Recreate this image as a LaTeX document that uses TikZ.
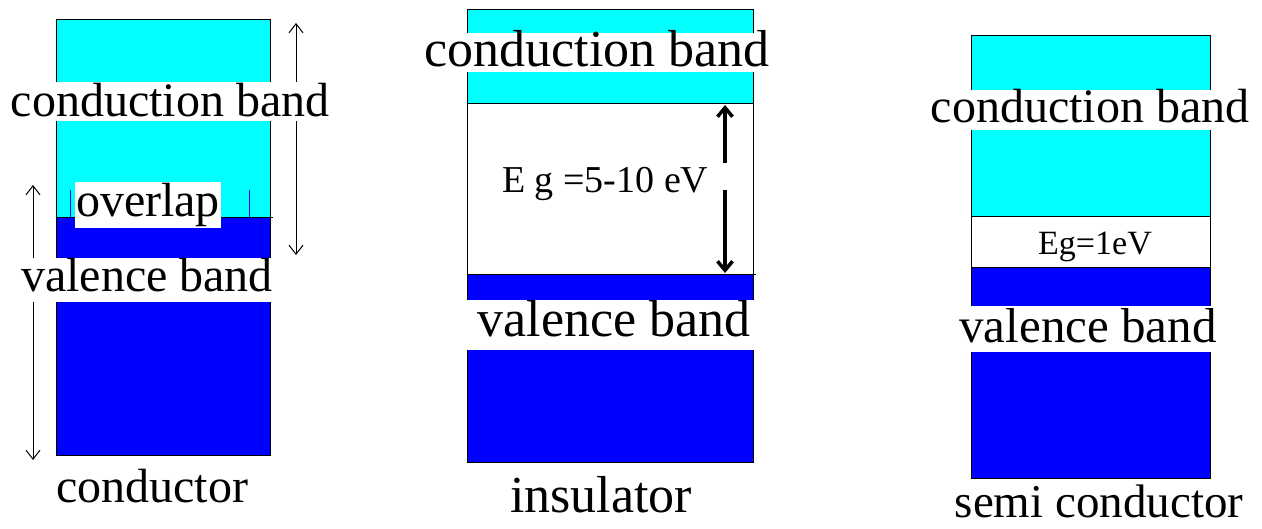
\documentclass[tikz,border=0pt]{standalone}
\usepackage{fontspec}
\setmainfont{Liberation Serif}
\usetikzlibrary{positioning, arrows.meta}

\definecolor{bandcyan}{RGB}{0,255,255}
\definecolor{bandblue}{RGB}{0,0,255}

% large labels: half size, scaled up twice
\newcommand{\bandtext}[2]{\scalebox{2}{\fontsize{#1}{#1}\selectfont #2}}

\begin{document}
\begin{tikzpicture}[x=1pt, y=-1pt,
    bandlabel/.style={fill=white, inner xsep=1pt, inner ysep=0pt, anchor=base},
    capt/.style={inner sep=0pt, anchor=base},
    thinarrow/.style={line width=1pt, {Straight Barb[length=9pt,width=14pt]}-{Straight Barb[length=9pt,width=14pt]}},
    gaparrow/.style={line width=3.5pt, -{Straight Barb[length=9pt,width=15pt]}},
    boxline/.style={draw=black, line width=1pt}]

            \useasboundingbox (0,0) rectangle (1262,529);

            % conductor
            \fill[bandcyan] (56,20) rectangle (270,218);
            \fill[bandblue] (56,218) rectangle (270,455);
            \draw[boxline] (56,20) rectangle (270,455);
            \draw[boxline] (56,218) -- (273,218);
            \draw[bandblue, line width=1pt] (70,190) -- (70,233);
            \draw[bandblue, line width=1pt] (249,190) -- (249,238);

            \coordinate (cbTop) at (296,23);
            \coordinate (cbBot) at (296,255);
            \coordinate (vbTop) at (33,185);
            \coordinate (vbBot) at (33,460);
            \draw[thinarrow] (cbTop) -- (cbBot);
            \draw[thinarrow] (vbTop) -- (vbBot);

            \node[bandlabel, text height=35pt, text depth=4pt] (CB1) at (170,117) {\bandtext{24}{conduction band}};
            \node[bandlabel, text height=35pt, text depth=11pt] (OL) at (148,217) {\bandtext{24}{overlap}};
            \node[bandlabel, text height=34pt, text depth=10pt] (VB1) at (147,292) {\bandtext{24}{valence band}};
            \node[capt] (C1) at (152,502) {\bandtext{24}{conductor}};

            % insulator
            \fill[bandcyan] (467,10) rectangle (753,104);
            \fill[bandblue] (467,275) rectangle (753,462);
            \draw[boxline] (467,10) rectangle (753,462);
            \draw[boxline] (467,104) -- (753,104);
            \draw[boxline] (467,275) -- (756,275);
            \fill[white] (466,300) rectangle (754,350);

            \node[bandlabel, text height=34pt, text depth=5pt] (CB2) at (597,67) {\bandtext{26}{conduction band}};
            \node[bandlabel, text height=37pt, text depth=13pt] (VB2) at (614,337) {\bandtext{26}{valence band}};
            \node[capt] (C2) at (601,512) {\bandtext{26}{insulator}};
            \node[capt, anchor=base west, font=\fontsize{38}{40}\selectfont] (EG2) at (502,193) {E g =5-10 eV};

            \coordinate (gapTop) at (725,105);
            \coordinate (gapUp) at (725,163);
            \coordinate (gapDown) at (725,190);
            \coordinate (gapBot) at (725,273);
            \draw[gaparrow] (gapUp) -- (gapTop);
            \draw[gaparrow] (gapDown) -- (gapBot);

            % semi conductor
            \fill[bandcyan] (971,36) rectangle (1210,217);
            \fill[bandblue] (971,268) rectangle (1210,478);
            \draw[boxline] (971,36) rectangle (1210,478);
            \draw[boxline] (971,217) -- (1210,217);
            \draw[boxline] (971,268) -- (1210,268);

            \node[bandlabel, text height=33pt, text depth=7pt] (CB3) at (1090,123) {\bandtext{24}{conduction band}};
            \node[bandlabel, text height=37pt, text depth=9pt] (VB3) at (1088,343) {\bandtext{24.5}{valence band}};
            \node[capt] (C3) at (1099,517) {\bandtext{23.5}{semi conductor}};
            \node[capt, anchor=base west, font=\fontsize{34}{36}\selectfont] (EG3) at (1038,255) {Eg=1eV};

\end{tikzpicture}
\end{document}
